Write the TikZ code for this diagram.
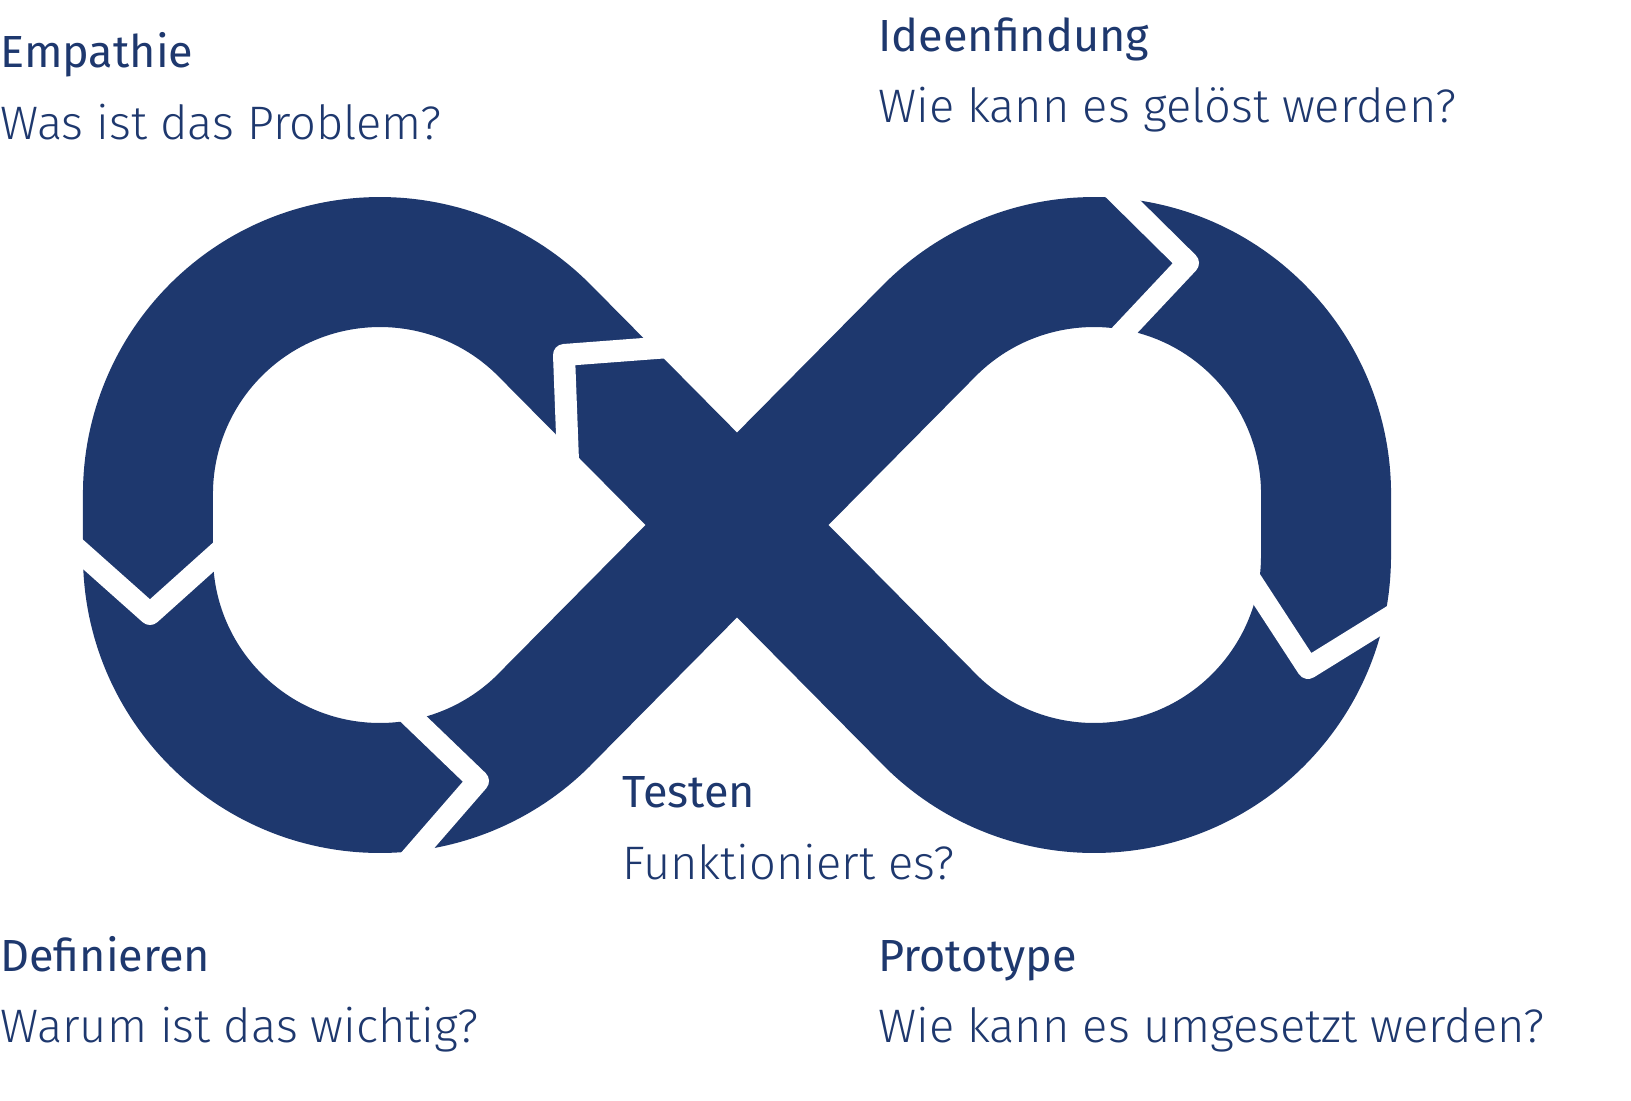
\documentclass[tikz,border=0pt]{standalone}
\usepackage{fontspec}
\setmainfont{Fira Sans Light}
\newfontfamily\headfont{Fira Sans}
\definecolor{navy}{RGB}{30,56,110}
\tikzset{
  band/.style={draw=navy,line width=65pt,line join=round},
  cut/.style={draw=white,line width=11pt,line join=round},
  head/.style={anchor=base west,inner sep=0pt,text=navy,font=\headfont\fontsize{22.5}{26}\selectfont},
  body/.style={anchor=base west,inner sep=0pt,text=navy,font=\fontsize{23.5}{28}\selectfont},
}
\begin{document}
\begin{tikzpicture}[x=0.5pt,y=0.5pt]
  \useasboundingbox (0,0) rectangle (1631,1101);
  % figure eight
  \draw[band] (930,381) -- (544,771) arc[start angle=45,end angle=180,radius=232]
    -- (148,545) arc[start angle=180,end angle=315,radius=232]
    -- (544,381) -- (930,771) arc[start angle=135,end angle=0,radius=232]
    -- (1326,545) arc[start angle=0,end angle=-135,radius=232] -- cycle;
  % white chevrons between the phases
  \draw[cut] (68,560) -- (150,487) -- (228,557);
  \draw[cut] (670,754) -- (564,746) -- (568,640);
  \draw[cut] (1110,915) -- (1188,838) -- (1110,755);
  \draw[cut] (1250,522) -- (1308,433) -- (1400,490);
  \draw[cut] (400,395) -- (478,320) -- (405,236);
  % labels
  \node[head] (emp) at (0,1033) {Empathie};
  \node[body] (empq) at (0,961) {Was ist das Problem?};
  \node[head] (idee) at (878,1049) {Ideenfindung};
  \node[body] (ideeq) at (878,978) {Wie kann es gelöst werden?};
  \node[head] (test) at (622,293) {Testen};
  \node[body] (testq) at (622,221) {Funktioniert es?};
  \node[head] (defi) at (0,129) {Definieren};
  \node[body] (defiq) at (0,58) {Warum ist das wichtig?};
  \node[head] (proto) at (878,129) {Prototype};
  \node[body] (protoq) at (878,58) {Wie kann es umgesetzt werden?};
\end{tikzpicture}
\end{document}
